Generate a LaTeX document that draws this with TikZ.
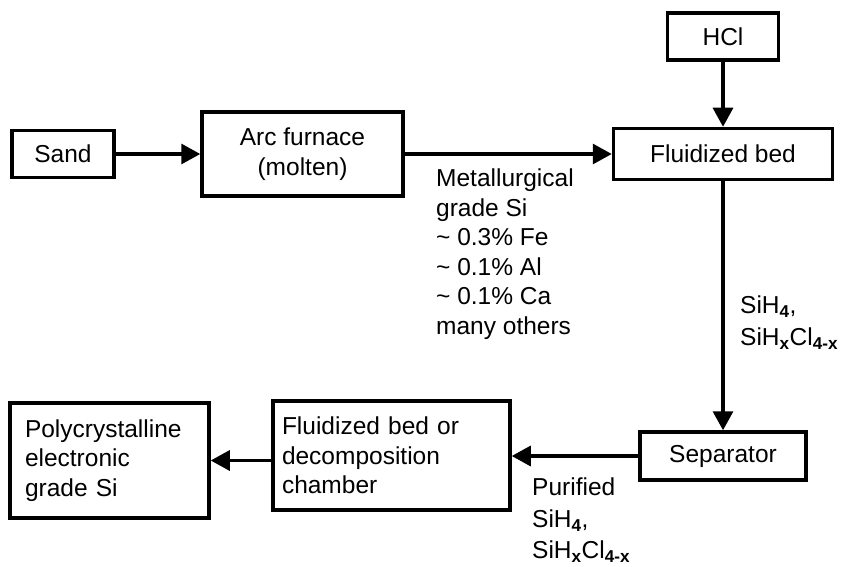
\documentclass[tikz,border=0pt]{standalone}
\usepackage{fontspec}
\setmainfont{Liberation Sans}
\usetikzlibrary{arrows.meta, positioning}

\newcommand{\chemsub}[1]{\textsubscript{\textbf{#1}}}

\begin{document}
\begin{tikzpicture}[
    x=1pt, y=-1pt,
    font=\fontsize{24.5}{29.5}\selectfont,
    box node/.style={rectangle, draw, line width=3.5pt, inner sep=0pt, align=center},
    flow/.style={line width=3.2pt, -{Triangle[length=19pt, width=20pt]}},
    label node/.style={anchor=north west, inner sep=0pt, align=left}
]
    \useasboundingbox (0,0) rectangle (843,567);

    % --- Top row ---
    \node[box node, minimum width=102pt, minimum height=47pt] (Sand) at (63, 154) {Sand};
    \node[box node, minimum width=201pt, minimum height=84pt] (Arc) at (302.5, 154) {Arc furnace\\(molten)};
    \node[box node, minimum width=219pt, minimum height=51pt] (Bed) at (723, 154) {Fluidized bed};
    \node[box node, minimum width=111pt, minimum height=47pt] (HCl) at (723, 36.5) {HCl};

    \draw[flow] (Sand) -- (Arc);
    \draw[flow] (Arc) -- (Bed);
    \draw[flow] (HCl) -- (Bed);

    \node[label node] (MetSi) at (436, 169) {Metallurgical\\grade Si\\\textasciitilde\ 0.3\% Fe\\\textasciitilde\ 0.1\% Al\\\textasciitilde\ 0.1\% Ca\\many others};

    % --- Right column ---
    \node[box node, minimum width=166pt, minimum height=48pt] (Sep) at (723, 456) {Separator};
    \draw[flow] (Bed) -- (Sep);

    \node[label node, font=\fontsize{24.5}{32}\selectfont] (Silanes) at (740, 295.5) {SiH\chemsub{4},\\SiH\chemsub{x}Cl\chemsub{4-x}};

    % --- Bottom row ---
    \node[box node, minimum width=237pt, minimum height=109pt, text width=219pt, align=left] (Decomp) at (391.5, 455.5) {Fluidized bed or\\decomposition\\chamber};
    \node[box node, minimum width=199pt, minimum height=115pt, text width=169pt, align=left] (Poly) at (109.5, 460.5) {Polycrystalline\\electronic\\grade Si};

    \draw[flow] (Sep.west) -- (Decomp.east |- Sep.west);
    \draw[flow] (Decomp.west |- Poly.east) -- (Poly.east);

    \node[label node, font=\fontsize{24.5}{31.5}\selectfont] (Purified) at (532, 478) {Purified\\SiH\chemsub{4},\\SiH\chemsub{x}Cl\chemsub{4-x}};
\end{tikzpicture}
\end{document}
